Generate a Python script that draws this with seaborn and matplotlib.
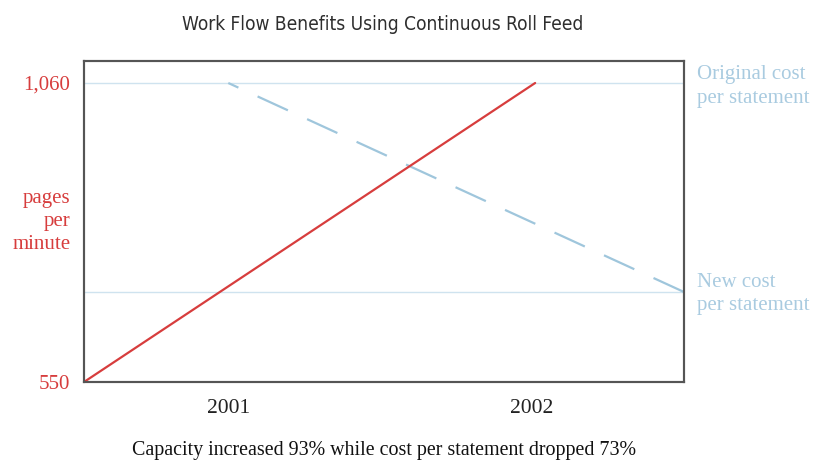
import matplotlib
matplotlib.use("Agg")
import matplotlib.pyplot as plt
import seaborn as sns
import pandas as pd

# --- data ---
years = [2000.525, 2002.01]          # capacity ramp across the period
pages_per_minute = [550, 1060]
cost_years = [2001.0, 2002.5]        # cost per statement, relative to original
cost_per_statement = [1.00, 0.27]
year_ticks = [2001, 2002]
page_ticks = [550, 1060]
page_tick_labels = ["550", "1,060"]

title = "Work Flow Benefits Using Continuous Roll Feed"
caption = "Capacity increased 93% while cost per statement dropped 73%"

RED = "#d73d3d"
BLUE_DASH = "#9fc6dc"
BLUE_REF = "#cfe3ef"
BLUE_TEXT = "#a9cbe0"
FRAME = "#555555"

sns.set_theme(style="white")
plt.rcParams["font.family"] = ["Liberation Serif", "DejaVu Serif"]

fig = plt.figure(figsize=(8.13, 4.62), dpi=100)
ax = fig.add_axes([84 / 813, 1 - 382 / 462, 600 / 813, 321 / 462])
ax2 = ax.twinx()

cap = pd.DataFrame({"year": years, "ppm": pages_per_minute})
cost = pd.DataFrame({"year": cost_years, "cost": cost_per_statement})

# reference levels for original / new cost
for c in cost_per_statement:
    ax2.axhline(c, color=BLUE_REF, lw=1.0, zorder=1)

sns.lineplot(data=cost, x="year", y="cost", ax=ax2, color=BLUE_DASH, lw=1.6,
             dashes=False)
ax2.lines[-1].set_linestyle((10, (15, 9.5)))
ax2.lines[-1].set_dash_capstyle("butt")

sns.lineplot(data=cap, x="year", y="ppm", ax=ax, color=RED, lw=1.6)
ax.set_zorder(ax2.get_zorder() + 1)
ax.patch.set_visible(False)

ax.set_xlim(2000.525, 2002.5)
ax.set_ylim(550, 550 + 510 * 321 / 299)
ax2.set_ylim(0.27 - 90 * 0.73 / 209, 1.0 + 22 * 0.73 / 209)

ax.set_xticks(year_ticks)
ax.set_xticklabels([str(y) for y in year_ticks], fontsize=15.5, color="#222222")
ax.set_yticks(page_ticks)
ax.set_yticklabels(page_tick_labels, fontsize=15, color=RED)
ax.tick_params(axis="y", length=0, pad=10)
ax.tick_params(axis="x", length=0, pad=12)
ax2.set_yticks([])
ax.set_xlabel("")
ax.set_ylabel("")
ax2.set_ylabel("")

for a in (ax, ax2):
    for s in a.spines.values():
        s.set_color(FRAME)
        s.set_linewidth(1.5)

# axis annotation on the left
ax.text(-0.022, 0.5, "pages\nper\nminute", transform=ax.transAxes,
        ha="right", va="center", fontsize=15, color=RED, linespacing=1.3)

# labels for the two cost levels on the right
for c, lab, dy in zip(cost_per_statement,
                      ["Original cost\nper statement", "New cost\nper statement"],
                      [-2.5, -1.5]):
    ax2.annotate(lab, xy=(1, c), xycoords=("axes fraction", "data"),
                 xytext=(9.5, dy), textcoords="offset points",
                 ha="left", va="center", fontsize=15, color=BLUE_TEXT,
                 linespacing=1.3)

fig.text(383 / 813, 1 - 25 / 462, title, ha="center", va="center",
         fontsize=13.7, color="#2e2e2e", fontstretch="condensed",
         family=["DejaVu Sans"])
fig.text(384 / 813, 1 - 450 / 462, caption, ha="center", va="center",
         fontsize=14.4, color="#111111")

fig.savefig("out.png", dpi=100)
